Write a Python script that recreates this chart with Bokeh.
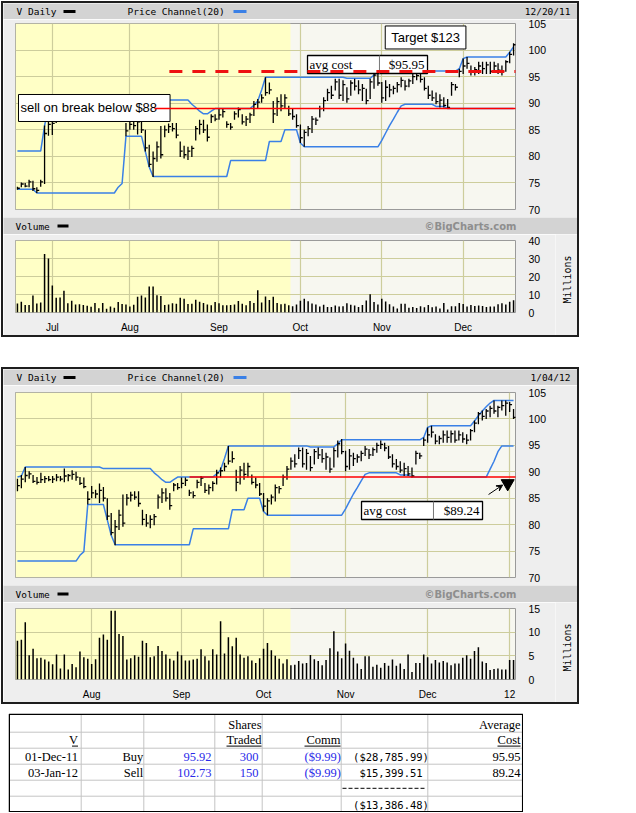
import math
from bokeh.plotting import figure
from bokeh.models import (Range1d, LinearAxis, FixedTicker, Grid, Label, Arrow,
                          VeeHead, ColumnDataSource, Spacer)
from bokeh.layouts import column, row
from bokeh.embed import file_html
from bokeh.resources import INLINE
from bokeh.core.properties import value

# ---------------- data ----------------
# trading-day index: 0 = 20 Jun 2011 ... 128 = 20 Dec 2011 ... 137 = 4 Jan 2012
month_starts = [9, 29, 52, 73, 94, 115, 136]
month_names = ["Jul", "Aug", "Sep", "Oct", "Nov", "Dec", "12"]

high = [
    74.3, 75.1, 75.0, 75.6, 75.4, 74.2, 75.6, 85.8, 89.0, 87.3,
    88.7, 89.4, 90.9, 90.1, 89.4, 89.0, 89.8, 89.2, 89.2, 89.2,
    89.6, 89.2, 90.6, 89.6, 90.3, 90.0, 89.0, 88.9, 86.3, 87.3,
    86.6, 87.8, 87.1, 85.0, 82.2, 80.9, 82.8, 85.7, 85.8, 86.2,
    86.3, 86.3, 82.8, 82.0, 81.8, 82.0, 85.7, 86.9, 86.9, 86.0,
    87.9, 87.9, 88.9, 88.9, 86.6, 86.3, 88.5, 89.2, 87.9, 87.6,
    88.2, 90.4, 90.8, 91.7, 94.9, 93.9, 90.4, 91.1, 91.7, 91.7,
    89.5, 88.9, 87.9, 86.0, 85.0, 85.7, 87.6, 87.3, 89.5, 91.1,
    92.7, 93.3, 94.6, 94.6, 94.3, 93.0, 94.3, 94.6, 94.3, 93.6,
    92.7, 94.6, 95.9, 96.2, 94.0, 94.3, 93.6, 93.3, 94.0, 94.9,
    94.3, 94.6, 95.5, 95.9, 95.5, 94.9, 93.3, 92.4, 92.0, 91.7,
    91.1, 90.8, 94.0, 93.6, 96.5, 98.4, 98.7, 97.1, 96.8, 97.8,
    97.8, 97.8, 97.8, 97.8, 97.5, 97.1, 98.1, 99.7, 101.3, 101.6,
    101.9, 102.5, 103.5, 102.5, 103.5, 103.5, 103.2, 101.9,
]
low = [
    73.7, 74.2, 74.2, 74.2, 73.5, 73.1, 74.3, 74.8, 83.9, 84.0,
    86.3, 86.9, 88.0, 88.7, 87.9, 87.6, 87.9, 87.9, 88.2, 87.9,
    88.2, 88.2, 88.0, 88.2, 88.5, 88.3, 87.5, 86.9, 83.8, 85.0,
    85.0, 84.1, 84.4, 80.9, 78.0, 76.1, 79.0, 79.6, 83.6, 84.4,
    84.7, 83.4, 79.9, 79.6, 79.3, 79.9, 83.0, 84.1, 84.4, 82.8,
    86.3, 86.6, 86.9, 87.3, 85.4, 85.0, 86.9, 87.3, 86.0, 85.7,
    86.3, 87.6, 88.9, 90.1, 91.4, 91.7, 86.3, 87.6, 88.5, 88.9,
    87.6, 86.9, 85.4, 82.5, 81.8, 83.8, 84.4, 85.9, 87.3, 88.5,
    90.4, 90.8, 92.4, 90.8, 90.4, 90.1, 91.4, 92.4, 91.7, 90.4,
    89.8, 90.8, 92.7, 93.3, 90.1, 90.4, 91.1, 91.7, 92.0, 93.0,
    92.4, 93.0, 93.6, 94.3, 93.9, 92.4, 90.8, 90.4, 89.8, 89.2,
    89.2, 88.9, 91.4, 92.4, 94.9, 95.5, 96.5, 95.2, 95.2, 95.5,
    95.5, 95.5, 95.5, 95.9, 95.5, 95.2, 95.9, 97.5, 99.0, 99.7,
    100.0, 100.3, 101.0, 100.3, 101.6, 100.6, 101.3, 100.0,
]
close = [
    74.0, 74.8, 74.4, 75.2, 73.9, 73.6, 75.2, 84.3, 86.0, 86.2,
    87.4, 88.6, 89.3, 89.6, 88.2, 88.0, 88.5, 88.7, 88.5, 88.6,
    89.0, 88.6, 89.2, 89.3, 89.5, 89.0, 87.8, 87.2, 84.8, 86.0,
    85.8, 86.5, 85.0, 81.6, 78.5, 79.6, 81.8, 80.3, 85.0, 85.6,
    85.2, 84.0, 81.0, 80.3, 81.0, 81.5, 85.2, 86.0, 85.0, 83.6,
    87.5, 87.0, 87.8, 88.4, 86.0, 85.5, 88.0, 88.8, 86.5, 87.0,
    87.8, 89.8, 90.2, 91.0, 92.0, 92.5, 88.0, 90.3, 89.5, 91.0,
    88.0, 87.5, 85.8, 83.5, 84.5, 85.2, 87.0, 86.8, 89.0, 90.5,
    92.0, 91.5, 94.0, 91.5, 93.5, 90.8, 93.8, 93.2, 92.5, 92.8,
    90.5, 94.0, 95.3, 93.8, 91.0, 93.0, 92.5, 92.8, 93.5, 94.3,
    93.2, 94.2, 95.0, 95.2, 94.5, 92.8, 91.5, 91.0, 90.3, 90.6,
    89.6, 89.2, 93.5, 93.0, 96.0, 97.0, 97.5, 95.8, 96.3, 97.0,
    96.5, 97.2, 96.0, 97.0, 96.2, 96.0, 97.8, 99.2, 101.0, 100.5,
    101.5, 102.0, 101.5, 102.2, 102.5, 103.0, 102.7, 100.3,
]
volume = [
    5.0, 6.0, 4.2, 4.2, 9.5, 5.0, 5.5, 32.5, 30.0, 15.0,
    8.2, 8.4, 12.1, 5.1, 6.5, 4.5, 4.6, 4.2, 3.8, 3.2,
    5.3, 2.3, 5.3, 2.1, 3.3, 2.6, 5.9, 4.7, 4.4, 3.3,
    4.3, 8.8, 9.5, 8.4, 14.5, 14.5, 9.6, 9.2, 4.2, 4.5,
    5.1, 4.8, 8.2, 7.7, 4.7, 4.9, 7.1, 6.0, 5.3, 4.4,
    4.0, 5.9, 5.1, 4.0, 4.0, 4.2, 4.4, 6.4, 4.9, 4.0,
    6.4, 5.3, 12.3, 5.5, 8.9, 7.0, 8.8, 5.3, 4.6, 4.9,
    4.0, 3.5, 4.5, 6.5, 7.7, 6.2, 5.0, 4.4, 3.4, 4.3,
    3.0, 3.1, 3.9, 3.4, 3.5, 5.2, 4.3, 3.9, 3.0, 4.1,
    6.6, 10.2, 5.9, 4.5, 7.6, 6.1, 4.6, 3.4, 2.2, 4.9,
    4.9, 2.7, 3.1, 2.5, 3.5, 2.9, 4.2, 2.9, 3.4, 2.2,
    5.3, 1.6, 3.5, 3.5, 5.3, 4.7, 3.4, 4.1, 3.6, 3.9,
    3.6, 3.0, 3.4, 3.4, 4.6, 5.1, 4.4, 6.0, 6.8, 3.8,
    3.5, 2.0, 2.2, 2.3, 2.1, 2.1, 4.1, 4.1,
]
chan_upper = [
    81.0, 81.0, 81.0, 81.0, 81.0, 81.0, 81.0, 85.8, 89.0, 89.0,
    89.0, 89.2, 90.9, 90.9, 90.9, 90.9, 90.9, 90.9, 90.9, 90.9,
    90.9, 90.9, 90.9, 90.9, 90.9, 90.9, 90.9, 90.9, 90.9, 90.9,
    90.9, 90.9, 90.6, 90.6, 90.6, 90.6, 90.6, 90.6, 90.6, 90.6,
    90.6, 90.6, 90.6, 90.6, 90.6, 89.8, 89.2, 88.5, 88.0, 88.0,
    88.5, 89.0, 89.0, 89.0, 89.0, 89.0, 89.0, 89.0, 89.0, 89.0,
    89.0, 89.6, 90.4, 92.5, 94.9, 94.9, 94.9, 94.9, 94.9, 94.9,
    94.9, 94.9, 94.9, 94.9, 94.9, 94.9, 94.9, 94.9, 94.9, 94.9,
    94.9, 94.9, 94.9, 94.9, 94.9, 94.7, 94.7, 94.7, 94.7, 94.7,
    94.7, 94.7, 95.3, 96.05, 96.05, 96.05, 96.05, 96.05, 96.05, 96.05,
    96.05, 96.05, 96.05, 96.05, 96.05, 96.05, 96.05, 96.05, 96.05, 96.05,
    96.05, 96.05, 96.05, 96.05, 96.5, 98.4, 98.7, 98.7, 98.7, 98.7,
    98.7, 98.7, 98.7, 98.7, 98.7, 98.7, 98.7, 99.6, 100.6, 101.5,
    102.3, 103.0, 103.5, 103.5, 103.5, 103.5, 103.5, 103.5,
]
chan_lower = [
    73.8, 73.8, 73.8, 73.8, 73.8, 73.1, 73.1, 73.1, 73.1, 73.1,
    73.1, 73.1, 73.1, 73.1, 73.1, 73.1, 73.1, 73.1, 73.1, 73.1,
    73.1, 73.1, 73.1, 73.1, 73.1, 73.1, 74.2, 74.9, 83.8, 83.8,
    83.8, 83.8, 83.8, 80.9, 78.0, 76.2, 76.2, 76.2, 76.2, 76.2,
    76.2, 76.2, 76.2, 76.2, 76.2, 76.2, 76.2, 76.2, 76.2, 76.2,
    76.2, 76.2, 76.2, 76.2, 76.2, 79.2, 79.2, 79.2, 79.2, 79.2,
    79.2, 79.2, 79.2, 79.2, 79.2, 82.8, 82.8, 82.8, 82.8, 85.0,
    85.0, 85.0, 85.0, 82.5, 81.8, 81.8, 81.8, 81.8, 81.8, 81.8,
    81.8, 81.8, 81.8, 81.8, 81.8, 81.8, 81.8, 81.8, 81.8, 81.8,
    81.8, 81.8, 81.8, 81.8, 83.0, 84.4, 85.8, 87.0, 88.3, 89.5,
    89.8, 89.8, 89.8, 89.8, 89.8, 89.8, 89.8, 89.8, 89.4, 89.4,
    89.4, 89.0, 89.0, 89.0, 89.0, 89.0, 89.0, 89.0, 89.0, 89.0,
    89.0, 89.0, 89.0, 89.0, 89.0, 89.0, 89.0, 89.0, 89.0, 89.0,
    89.0, 90.5, 92.0, 93.8, 94.9, 94.9, 94.9, 94.9,
]
price_ticks = [70, 75, 80, 85, 90, 95, 100, 105]

chart1_days = (0, 128)
chart1_date = "12/20/11"
chart1_vol_ticks = [0, 10, 20, 30, 40]
chart2_days = (10, 137)
chart2_date = "1/04/12"
chart2_vol_ticks = [0, 5, 10, 15]

avg_cost_1 = 95.95
avg_cost_2 = 89.24
stop_level = 89.0

trade_dates = ["01-Dec-11", "03-Jan-12"]
trade_sides = ["Buy", "Sell"]
trade_prices = [95.92, 102.73]
trade_shares = [300, 150]
trade_comm = [-9.99, -9.99]
trade_amounts = [-28785.99, 15399.51]
trade_avg_cost = [95.95, 89.24]
trade_net = -13386.48

# ---------------- styling ----------------
W = 574
MW = 22          # width of the strip holding the "Millions" caption
HDR_BG = "#d3d3d3"
PANEL_BG = "#eeeeee"
PLOT_BG = "#f7f7f0"
YELLOW = "#ffffc6"
GRID_C = "#cdcd9c"
BLUE = "#3a80e6"
AX_FONT = "Liberation Sans"
MONO = "DejaVu Sans Mono"
SERIF = "Liberation Serif"


def base_fig(width, height, xr, yr, **kw):
    return figure(width=width, height=height, x_range=Range1d(*xr), y_range=Range1d(*yr),
                  x_axis_type=None, y_axis_type=None, toolbar_location=None,
                  output_backend="svg", frame_align=False, **kw)


def strip(width, height, items, right_x, right_text, right_style):
    f = base_fig(width, height, (0, width), (0, height), min_border=0,
                 background_fill_color=HDR_BG, border_fill_color=HDR_BG,
                 outline_line_color=None)
    cy = height / 2.0
    for txt, x0, sw0, sw1, swc in items:
        f.text(x=[x0], y=[cy], text=[txt], text_font=value(MONO), text_font_size="9.5px",
               text_baseline="middle", text_align="left", text_color="black")
        f.quad(left=[sw0], right=[sw1], bottom=[cy - 1.5], top=[cy + 1.5],
               fill_color=swc, line_color=None)
    f.text(x=[right_x], y=[cy], text=[right_text], text_baseline="middle",
           text_align="right", **right_style)
    return f


def header(date_text):
    return strip(W, 16, [("V Daily", 13, 60, 72, "black"),
                         ("Price Channel(20)", 124, 230, 243, BLUE)],
                 567, date_text, dict(text_font=value(MONO), text_font_size="9.5px",
                                      text_color="black"))


def vol_header():
    return strip(W, 17, [("Volume", 12, 54, 65, "black")], 513, "\u00a9BigCharts.com",
                 dict(text_font=value("DejaVu Sans"), text_font_size="10px",
                      text_font_style="bold", text_color="#8e8e8e"))


def millions_strip(height, top, frame_h):
    f = base_fig(MW, height, (0, MW), (0, height), min_border=0,
                 background_fill_color=PANEL_BG, border_fill_color=PANEL_BG,
                 outline_line_color=None)
    f.text(x=[MW / 2.0 + 0.7], y=[height - top - frame_h / 2.0], text=["Millions"],
           angle=math.pi / 2, text_font=value(MONO), text_font_size="10px",
           text_align="center", text_baseline="middle", text_color="black")
    return f


def month_ticks(lo, hi):
    return [m for m in month_starts if lo - 0.5 < m < hi + 0.5]


def price_panel(days, height, top, bottom, yellow_edge):
    lo, hi = days
    xs = list(range(lo, hi + 1))
    src = ColumnDataSource(dict(x=xs, high=high[lo:hi + 1], low=low[lo:hi + 1],
                                close=close[lo:hi + 1], up=chan_upper[lo:hi + 1],
                                dn=chan_lower[lo:hi + 1]))
    xr = (lo - 0.5, hi + 0.5)
    p = base_fig(W, height, xr, (70, 105), min_border_left=12, min_border_right=62,
                 min_border_top=top, min_border_bottom=bottom,
                 background_fill_color=PLOT_BG, border_fill_color=PANEL_BG,
                 outline_line_color="#9a9a9a", outline_line_width=1)
    p.quad(left=[xr[0]], right=[yellow_edge], bottom=[70], top=[105],
           fill_color=YELLOW, line_color=None, level="image")
    p.add_layout(Grid(dimension=0, ticker=FixedTicker(ticks=month_ticks(lo, hi)),
                      grid_line_color=GRID_C, grid_line_width=1.2))
    p.add_layout(Grid(dimension=1, ticker=FixedTicker(ticks=price_ticks[1:-1]),
                      grid_line_color=GRID_C, grid_line_width=1.2))
    ax = LinearAxis(ticker=FixedTicker(ticks=price_ticks), axis_line_color=None,
                    major_tick_line_color=None, minor_tick_line_color=None,
                    major_label_standoff=7, major_label_text_font=AX_FONT,
                    major_label_text_font_size="10.5px", major_label_text_color="black")
    p.add_layout(ax, "right")
    p.line("x", "up", source=src, line_color=BLUE, line_width=1.5)
    p.line("x", "dn", source=src, line_color=BLUE, line_width=1.5)
    p.segment(x0="x", y0="low", x1="x", y1="high", source=src,
              line_color="black", line_width=1.3)
    p.ray(x="x", y="close", length=2.4, length_units="screen", angle=0, source=src,
          line_color="black", line_width=1.3)
    return p


def volume_panel(days, height, top, bottom, yellow_edge, vticks):
    lo, hi = days
    xs = list(range(lo, hi + 1))
    src = ColumnDataSource(dict(x=xs, vol=volume[lo:hi + 1]))
    xr = (lo - 0.5, hi + 0.5)
    vmax = vticks[-1]
    v = base_fig(W - MW, height, xr, (0, vmax), min_border_left=12,
                 min_border_right=62 - MW, min_border_top=top, min_border_bottom=bottom,
                 background_fill_color=PLOT_BG, border_fill_color=PANEL_BG,
                 outline_line_color="#9a9a9a", outline_line_width=1)
    v.quad(left=[xr[0]], right=[yellow_edge], bottom=[0], top=[vmax],
           fill_color=YELLOW, line_color=None, level="image")
    mt = month_ticks(lo, hi)
    v.add_layout(Grid(dimension=0, ticker=FixedTicker(ticks=mt),
                      grid_line_color=GRID_C, grid_line_width=1.2))
    v.add_layout(Grid(dimension=1, ticker=FixedTicker(ticks=vticks[1:-1]),
                      grid_line_color=GRID_C, grid_line_width=1.2))
    yax = LinearAxis(ticker=FixedTicker(ticks=vticks), axis_line_color=None,
                     major_tick_line_color=None, minor_tick_line_color=None,
                     major_label_standoff=7, major_label_text_font=AX_FONT,
                     major_label_text_font_size="10.5px", major_label_text_color="black")
    v.add_layout(yax, "right")
    xax = LinearAxis(ticker=FixedTicker(ticks=mt), axis_line_color=None,
                     major_tick_line_color=None, minor_tick_line_color=None,
                     major_label_standoff=3, major_label_text_font=AX_FONT,
                     major_label_text_font_size="10px", major_label_text_color="black",
                     major_label_overrides={m: month_names[month_starts.index(m)] for m in mt})
    v.add_layout(xax, "below")
    v.segment(x0="x", y0=0, x1="x", y1="vol", source=src, line_color="black",
              line_width=1.5)
    frame_h = height - top - bottom
    return row(v, millions_strip(height, top, frame_h))


def cost_box(p, left, right, divider, bottom, top, ytext, label, amount):
    p.quad(left=[left], right=[right], bottom=[bottom], top=[top], fill_color="white",
           line_color="black", line_width=1.3)
    p.segment(x0=[divider], y0=[bottom], x1=[divider], y1=[top], line_color="#777777",
              line_width=1)
    p.text(x=[left + 0.5], y=[ytext], text=[label], text_font=value(SERIF),
           text_font_size="13px", text_baseline="middle", text_align="left")
    p.text(x=[right - 0.8], y=[ytext], text=[amount], text_font=value(SERIF),
           text_font_size="13px", text_baseline="middle", text_align="right")


# ---------------- chart 1 ----------------
h1 = header(chart1_date)
p1 = price_panel(chart1_days, 198, 4, 8, 70.45)
cost_box(p1, 74.84, 105.8, 93.4, 95.59, 98.98, 97.28, "avg cost", "$%.2f" % avg_cost_1)
p1.add_layout(Label(x=0.27, y=89.1, text="sell on break below $88", text_font=AX_FONT,
                    text_font_size="13px", text_baseline="middle", text_align="left",
                    text_color="black", background_fill_color="white",
                    border_line_color="black", border_line_width=1,
                    padding=dict(left=2, right=13, top=6, bottom=6)))
p1.add_layout(Label(x=105.3, y=102.37, text="Target $123", text_font=AX_FONT,
                    text_font_size="13px", text_baseline="middle", text_align="center",
                    text_color="black", background_fill_color="white",
                    border_line_color="black", border_line_width=1,
                    padding=dict(left=6, right=6, top=4, bottom=4)))
p1.add_layout(Arrow(start=None, end=None, x_start=39.2, y_start=avg_cost_1, x_end=133.1,
                    y_end=avg_cost_1, line_color="#ee1111", line_width=3, line_dash="13 10"))
p1.add_layout(Arrow(start=None, end=None, x_start=35.4, y_start=stop_level, x_end=129.5,
                    y_end=stop_level, line_color="#ff0000", line_width=1.5))
vh1 = vol_header()
v1 = volume_panel(chart1_days, 101, 6, 17, 70.45, chart1_vol_ticks)

# ---------------- chart 2 ----------------
h2 = header(chart2_date)
p2 = price_panel(chart2_days, 200, 7, 8, 79.9)
cost_box(p2, 98.08, 129.06, 116.5, 80.97, 84.38, 82.68, "avg cost", "$%.2f" % avg_cost_2)
p2.add_layout(Arrow(start=None, end=None, x_start=54.05, y_start=stop_level, x_end=144.7,
                    y_end=stop_level, line_color="#ff0000", line_width=1.5))
p2.scatter(x=[135.5], y=[87.8], marker="inverted_triangle", size=13, fill_color="black",
           line_color="black")
p2.add_layout(Arrow(end=VeeHead(size=6, fill_color="black", line_color="black"),
                    x_start=130.6, y_start=85.7, x_end=134.2, y_end=87.5,
                    line_color="black", line_width=1))
vh2 = vol_header()
v2 = volume_panel(chart2_days, 100, 6, 16, 79.9, chart2_vol_ticks)

# ---------------- table ----------------
TW, TH = 515, 99
tbl = base_fig(TW, TH, (0, TW), (TH, 0), min_border=0, background_fill_color="white",
               border_fill_color="white", outline_line_color=None)
col_edges = [0.75, 72.7, 135.3, 206.3, 253.7, 332.7, 419.3, 514.2]
row_edges = [0.75, 18.7, 34.7, 50.7, 66.7, 82.7, 98.2]
tbl.segment(x0=col_edges[1:-1], y0=[row_edges[0]] * 6, x1=col_edges[1:-1],
            y1=[row_edges[-1]] * 6, line_color="#c4c4c4", line_width=1)
tbl.segment(x0=[col_edges[0]] * 5, y0=row_edges[1:-1], x1=[col_edges[-1]] * 5,
            y1=row_edges[1:-1], line_color="#c4c4c4", line_width=1)
tbl.quad(left=[col_edges[0]], right=[col_edges[-1]], top=[row_edges[0]],
         bottom=[row_edges[-1]], fill_color=None, line_color="black", line_width=1.5)


def money(v):
    return "($%s)" % format(abs(v), ",.2f") if v < 0 else "$%s" % format(v, ",.2f")


def ttext(x, y, s, align="right", color="black", font=SERIF, size="12.5px"):
    tbl.text(x=[x], y=[y], text=[s], text_font=value(font), text_font_size=size,
             text_align=align, text_baseline="middle", text_color=color)


BLUE_T = "#2a2ae8"
ttext(253, 11, "Shares")
ttext(512, 11, "Average")
ttext(69.5, 26.5, "V")
ttext(253, 26.5, "Traded")
ttext(332, 26.5, "Comm")
ttext(512, 26.5, "Cost")
tbl.segment(x0=[63.5, 218, 296, 489], y0=[32.6] * 4, x1=[69.5, 253, 332, 512], y1=[32.6] * 4,
            line_color="black", line_width=1)
row_y = [43, 59]
for i in range(2):
    y = row_y[i]
    ttext(69.5, y, trade_dates[i])
    ttext(134.8, y, trade_sides[i])
    ttext(203, y, "%.2f" % trade_prices[i], color=BLUE_T)
    ttext(250, y, "%d" % trade_shares[i], color=BLUE_T)
    ttext(332.5, y, money(trade_comm[i]), color=BLUE_T)
    ttext(382.5, y, money(trade_amounts[i]), align="center", font=MONO, size="10.5px")
    ttext(512, y, "%.2f" % trade_avg_cost[i])
tbl.segment(x0=[334], y0=[74.8], x1=[418], y1=[74.8], line_color="black", line_width=1,
            line_dash="4 2")
ttext(382.5, 91, money(trade_net), align="center", font=MONO, size="10.5px")

# ---------------- layout ----------------
block1 = column(h1, p1, vh1, v1, styles={"border": "2px solid #1e1e1e"})
block2 = column(h2, p2, vh2, v2, styles={"border": "2px solid #1e1e1e"})
root = column(block1, Spacer(height=30), block2, Spacer(height=9),
              row(Spacer(width=7), tbl),
              styles={"margin-left": "1px", "margin-top": "1px"})

open("out.html", "w").write(file_html(root, INLINE))
